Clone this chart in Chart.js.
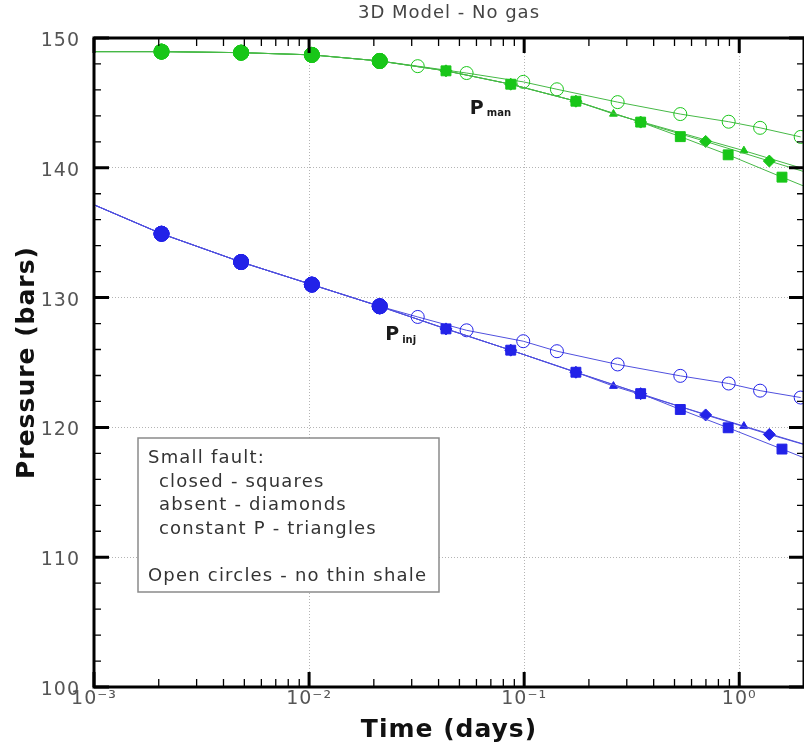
<!DOCTYPE html>
<html>
<head>
<meta charset="utf-8">
<title>3D Model - No gas</title>
<script src="https://cdn.jsdelivr.net/npm/chart.js@4.4.1/dist/chart.umd.min.js"></script>
<style>
  html, body { margin: 0; padding: 0; background: #fff; overflow: hidden; }
  #plot { display: block; }
</style>
</head>
<body>
<canvas id="plot" width="812" height="751"></canvas>
<script>
// ---- text ----
const TITLE = '3D Model - No gas';
const X_TITLE = 'Time (days)';
const Y_TITLE = 'Pressure (bars)';
const X_DECADES = [0.001, 0.01, 0.1, 1];
const X_TICK_LABELS = ['10\u207B\u00B3', '10\u207B\u00B2', '10\u207B\u00B9', '10\u2070'];
const Y_TICKS = [100, 110, 120, 130, 140, 150];
const NOTE_LINES = ['Small fault:', '  closed - squares', '  absent - diamonds', '  constant P - triangles', '', 'Open circles - no thin shale'];

// ---- shared start of every run (days, bars) ----
const tEarly   = [0.001, 0.00206, 0.00483, 0.0103, 0.0213];
const manEarly = [148.95, 148.95, 148.87, 148.70, 148.23];
const injEarly = [137.15, 134.92, 132.74, 131.00, 129.33];

// ---- small fault closed (squares) ----
const tClosed   = [0.0433, 0.0866, 0.174, 0.348, 0.532, 0.888, 1.58, 2.7];
const manClosed = [147.47, 146.44, 145.13, 143.52, 142.40, 141.00, 139.28, 137.7];
const injClosed = [127.59, 125.95, 124.25, 122.60, 121.38, 119.97, 118.33, 116.8];

// ---- small fault absent (diamonds) ----
const tAbsent   = [0.0433, 0.0866, 0.174, 0.348, 0.698, 1.38, 2.76];
const manAbsent = [147.47, 146.44, 145.13, 143.52, 142.03, 140.52, 139.0];
const injAbsent = [127.59, 125.95, 124.25, 122.60, 120.96, 119.46, 118.0];

// ---- small fault at constant pressure (triangles) ----
const tConstP   = [0.0433, 0.0866, 0.174, 0.26, 1.051, 4.2];
const manConstP = [147.47, 146.44, 145.13, 144.15, 141.32, 138.3];
const injConstP = [127.59, 125.95, 124.25, 123.18, 120.10, 117.1];

// ---- no thin shale (open circles) ----
const tOpen   = [0.032, 0.054, 0.099, 0.142, 0.272, 0.532, 0.893, 1.25, 1.93];
const manOpen = [147.83, 147.30, 146.62, 146.05, 145.06, 144.14, 143.55, 143.08, 142.38];
const injOpen = [128.51, 127.48, 126.64, 125.87, 124.85, 123.97, 123.38, 122.83, 122.30];

// ---- styling ----
const GREEN = 'rgb(24,198,24)';
const GREEN_LINE = 'rgb(70,185,70)';
const BLUE = 'rgb(34,34,232)';
const BLUE_LINE = 'rgb(80,80,222)';
const FONT = 'DejaVu Sans';
const EARLY_N = tEarly.length;

function toPoints(tA, vA, tB, vB) {
  const t = tA.concat(tB), v = vA.concat(vB);
  return t.map((tt, i) => ({ x: tt, y: v[i] }));
}

function series(label, tRun, early, values, color, lineColor, style, radius, open) {
  return {
    label,
    data: toPoints(tEarly, early, tRun, values),
    showLine: true,
    borderColor: lineColor,
    borderWidth: 1,
    pointStyle: c => c.dataIndex < EARLY_N ? 'circle' : style,
    pointRadius: c => c.dataIndex === 0 ? 0 : (c.dataIndex < EARLY_N ? 7.5 : radius),
    pointBackgroundColor: c => (open && c.dataIndex >= EARLY_N) ? 'rgba(255,255,255,0)' : color,
    pointBorderColor: color,
    pointBorderWidth: 1,
    pointHoverRadius: 0
  };
}

const datasets = [
  series('P man - closed', tClosed, manEarly, manClosed, GREEN, GREEN_LINE, 'rect', 7, false),
  series('P man - absent', tAbsent, manEarly, manAbsent, GREEN, GREEN_LINE, 'rectRot', 6, false),
  series('P man - constant P', tConstP, manEarly, manConstP, GREEN, GREEN_LINE, 'triangle', 4.5, false),
  series('P man - no thin shale', tOpen, manEarly, manOpen, GREEN, GREEN_LINE, 'circle', 6.5, true),
  series('P inj - closed', tClosed, injEarly, injClosed, BLUE, BLUE_LINE, 'rect', 7, false),
  series('P inj - absent', tAbsent, injEarly, injAbsent, BLUE, BLUE_LINE, 'rectRot', 6, false),
  series('P inj - constant P', tConstP, injEarly, injConstP, BLUE, BLUE_LINE, 'triangle', 4.5, false),
  series('P inj - no thin shale', tOpen, injEarly, injOpen, BLUE, BLUE_LINE, 'circle', 6.5, true)
];

const isDecade = v => Math.abs(Math.log10(v) - Math.round(Math.log10(v))) < 1e-6;

// frame with inward ticks, curve labels and the note box
const framePlugin = {
  id: 'framePlugin',
  beforeDraw(chart) { chart.ctx.letterSpacing = '1px'; },
  afterDraw(chart) {
    const { ctx, chartArea: a, scales: { x, y } } = chart;
    ctx.save();
    ctx.strokeStyle = '#000';
    X_DECADES.forEach(d => {
      for (let k = 1; k <= 9; k++) {
        const v = k * d;
        if (v > x.max * 1.0001) continue;
        const px = x.getPixelForValue(v);
        const major = k === 1;
        const len = major ? 15 : 8;
        ctx.lineWidth = major ? 3 : 1.3;
        ctx.beginPath();
        ctx.moveTo(px, a.bottom); ctx.lineTo(px, a.bottom - len);
        ctx.moveTo(px, a.top); ctx.lineTo(px, a.top + len);
        ctx.stroke();
      }
    });
    for (let v = y.min; v <= y.max; v += 2) {
      const py = y.getPixelForValue(v);
      const major = v % 10 === 0;
      const len = major ? 15 : 7;
      ctx.lineWidth = major ? 3 : 1.3;
      ctx.beginPath();
      ctx.moveTo(a.left, py); ctx.lineTo(a.left + len, py);
      ctx.moveTo(a.right, py); ctx.lineTo(a.right - len, py);
      ctx.stroke();
    }
    ctx.lineWidth = 3;
    ctx.strokeRect(a.left, a.top, a.right - a.left, a.bottom - a.top);

    // curve labels
    ctx.fillStyle = '#1a1a1a';
    ctx.textBaseline = 'alphabetic';
    ctx.textAlign = 'left';
    ctx.letterSpacing = '0px';
    const label = (xv, yv, main, sub, dy) => {
      const px = x.getPixelForValue(xv), py = y.getPixelForValue(yv);
      ctx.font = 'bold 19px "' + FONT + '"';
      ctx.fillText(main, px, py);
      const w = ctx.measureText(main).width;
      ctx.font = 'bold 10px "' + FONT + '"';
      ctx.fillText(sub, px + w + 3, py + dy);
    };
    label(0.0559, 144.12, 'P', 'man', 2);
    label(0.0226, 126.77, 'P', 'inj', 3);

    // note box
    const bx = a.left + 44, by = a.top + 400, bw = 301, bh = 154;
    ctx.fillStyle = '#fff';
    ctx.fillRect(bx, by, bw, bh);
    ctx.strokeStyle = '#8a8a8a';
    ctx.lineWidth = 1.5;
    ctx.strokeRect(bx, by, bw, bh);
    ctx.fillStyle = '#333';
    ctx.font = '18px "' + FONT + '"';
    ctx.letterSpacing = '1.2px';
    NOTE_LINES.forEach((line, i) => {
      if (!line) return;
      const indent = line.startsWith('  ') ? 11 : 0;
      ctx.fillText(line.trim(), bx + 10 + indent, by + 25 + i * 23.5);
    });
    ctx.restore();
  }
};

new Chart(document.getElementById('plot'), {
  type: 'scatter',
  data: { datasets },
  plugins: [framePlugin],
  options: {
    responsive: false,
    animation: false,
    events: [],
    layout: { padding: { left: 0, right: 4, top: 0, bottom: 0 } },
    plugins: {
      legend: { display: false },
      tooltip: { enabled: false },
      title: {
        display: true,
        text: TITLE,
        fullSize: false,
        color: '#444',
        font: { family: FONT, size: 18, weight: 'normal', lineHeight: 1.2 },
        padding: { top: 3, bottom: 13.4 }
      }
    },
    scales: {
      x: {
        type: 'logarithmic',
        min: 0.001,
        max: 2,
        afterBuildTicks: s => { s.ticks = X_DECADES.map(v => ({ value: v, major: true })); },
        afterFit: s => { s.height = 64; },
        ticks: {
          autoSkip: false,
          maxRotation: 0,
          padding: 1,
          color: '#555',
          font: { family: FONT, size: 19 },
          callback: v => { const i = X_DECADES.findIndex(d => Math.abs(d - v) < d * 1e-6); return i >= 0 ? X_TICK_LABELS[i] : ''; }
        },
        grid: {
          drawTicks: false,
          lineWidth: 1,
          color: c => (c.tick && isDecade(c.tick.value)) ? '#b4b4b4' : 'rgba(0,0,0,0)'
        },
        border: { display: false, dash: [1, 2] },
        title: {
          display: true,
          text: X_TITLE,
          color: '#111',
          font: { family: FONT, size: 25, weight: 'bold', lineHeight: 1.2 },
          padding: { top: 0, bottom: 6 }
        }
      },
      y: {
        type: 'linear',
        min: 100,
        max: 150,
        afterBuildTicks: s => { s.ticks = Y_TICKS.map(v => ({ value: v })); },
        afterFit: s => { s.width = 94; },
        ticks: {
          padding: 14,
          labelOffset: 3,
          color: '#555',
          font: { family: FONT, size: 19 },
          callback: v => String(v)
        },
        grid: {
          drawTicks: false,
          lineWidth: 1,
          color: '#b4b4b4'
        },
        border: { display: false, dash: [1, 2] },
        title: {
          display: true,
          text: Y_TITLE,
          color: '#111',
          font: { family: FONT, size: 25, weight: 'bold', lineHeight: 1.2 },
          padding: { top: 12, bottom: 0 }
        }
      }
    }
  }
});
</script>
</body>
</html>
